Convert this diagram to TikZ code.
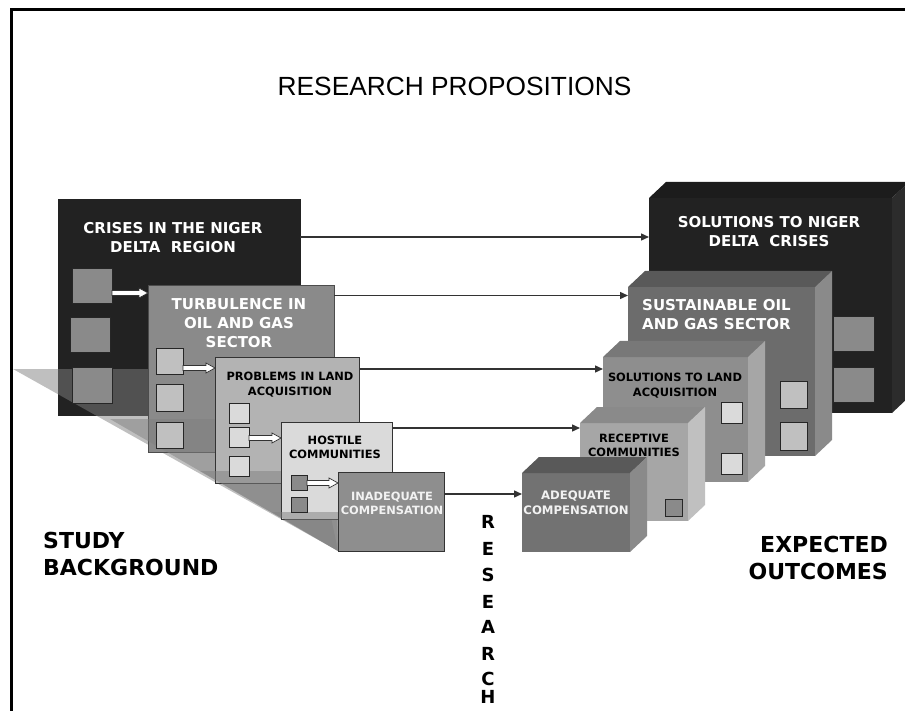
\documentclass[tikz,border=0pt]{standalone}
\usepackage{fontspec}
\setsansfont{DejaVu Sans}
\newfontfamily\titlefont{Liberation Sans}
\usetikzlibrary{arrows.meta,calc}
\definecolor{k22}{HTML}{222222}
\definecolor{k33}{HTML}{333333}
\definecolor{r1top}{HTML}{1C1C1C}
\definecolor{r1side}{HTML}{2C2C2C}
\definecolor{g59}{HTML}{595959}
\definecolor{g6c}{HTML}{6C6C6C}
\definecolor{g72}{HTML}{727272}
\definecolor{g78}{HTML}{787878}
\definecolor{g8a}{HTML}{8A8A8A}
\definecolor{g8e}{HTML}{8E8E8E}
\definecolor{ga6}{HTML}{A6A6A6}
\definecolor{gb3}{HTML}{B3B3B3}
\definecolor{gc0}{HTML}{C0C0C0}
\definecolor{gda}{HTML}{DADADA}
\definecolor{txtw}{HTML}{F2F2F2}
\newcommand{\bigf}{\fontsize{15}{19}\selectfont}
\newcommand{\smallf}{\fontsize{11.4}{14.5}\selectfont}
\tikzset{
  lbox/.style={rectangle, inner sep=0pt, outer sep=0pt, anchor=north west, draw=k33, line width=0.8pt},
  fbox/.style={rectangle, inner sep=0pt, outer sep=0pt, anchor=north west},
  sqr/.style={rectangle, inner sep=0pt, outer sep=0pt, anchor=north west, draw=black!85, line width=0.8pt},
  btxt/.style={inner sep=0pt, align=center, font=\sffamily\bfseries},
  conn/.style={draw=k33, line width=1.4pt, -{Triangle[length=8pt,width=7pt]}},
  warrow/.style={fill=white, draw=k33, line width=0.7pt, line join=miter},
  shad/.style={fill=black!50, fill opacity=0.5},
  label/.style={inner sep=0pt, font=\sffamily\bfseries\fontsize{22}{27}\selectfont},
  vlet/.style={inner sep=0pt, anchor=base, font=\sffamily\bfseries\fontsize{18}{20}\selectfont},
}
% block arrow from square #1 to box #2 at height #3
\newcommand{\blockarrow}[3]{%
  \path[warrow] let \p1=(#1.east), \p2=(#2.west), \p3=(0,#3) in
    (\x1,\y3+2.5pt) -- (\x2-9pt,\y3+2.5pt) -- (\x2-9pt,\y3+5pt) -- (\x2,\y3)
    -- (\x2-9pt,\y3-5pt) -- (\x2-9pt,\y3-2.5pt) -- (\x1,\y3-2.5pt) -- cycle;}
% 3D faces of a front node
\newcommand{\cubefaces}[3]{%
  \fill[#2] (#1.north west) -- ([shift={(17,-16)}]#1.north west) -- ([shift={(17,-16)}]#1.north east) -- (#1.north east) -- cycle;
  \fill[#3] (#1.north east) -- ([shift={(17,-16)}]#1.north east) -- ([shift={(17,-16)}]#1.south east) -- (#1.south east) -- cycle;}
\begin{document}
\begin{tikzpicture}[x=1pt,y=-1pt]
\useasboundingbox (0,0) rectangle (905,711);
\fill[white] (0,0) rectangle (905,711);
% frame
\draw[line width=3pt] (11.5,711) -- (11.5,9.5) -- (905,9.5);
% title
\node[inner sep=0pt, font=\titlefont\fontsize{26.3}{30}\selectfont] (title) at (454.5,86) {RESEARCH PROPOSITIONS};

% ---------------- left stack ----------------
\node[lbox, draw=k22, fill=k22, minimum width=242pt, minimum height=216pt] (b1) at (58,199) {};
\node[btxt, text=white, font=\sffamily\bfseries\bigf] (t1) at (173,237.5) {CRISES IN THE NIGER\\DELTA~~REGION};
\fill[shad] (13,369) -- (300,369) -- (338,551) -- cycle;
\node[sqr, fill=g8a, minimum width=40pt, minimum height=35pt] (s1a) at (72,268) {};
\node[sqr, fill=g8a, minimum width=40pt, minimum height=35pt] (s1b) at (70,317) {};
\node[sqr, fill=g8a, minimum width=40pt, minimum height=36pt] (s1c) at (72,367) {};

\node[lbox, draw=black!70, fill=g8a, minimum width=186pt, minimum height=167pt] (b2) at (148,285) {};
\blockarrow{s1a}{b2}{293}
\node[btxt, text=white, font=\sffamily\bfseries\bigf] (t2) at (239,323) {TURBULENCE IN\\OIL AND GAS\\SECTOR};
\fill[shad] (110,419) -- (334,419) -- (338,551) -- cycle;
\node[sqr, fill=gc0, minimum width=27pt, minimum height=26pt] (s2a) at (156,348) {};
\node[sqr, fill=gc0, minimum width=27pt, minimum height=27pt] (s2b) at (156,384) {};
\node[sqr, fill=gc0, minimum width=27pt, minimum height=26pt] (s2c) at (156,422) {};

\node[lbox, fill=gb3, minimum width=144pt, minimum height=126pt] (b3) at (215,357) {};
\blockarrow{s2a}{b3}{368}
\node[btxt, text=black, font=\sffamily\bfseries\smallf] (t3) at (290,384.5) {PROBLEMS IN LAND\\ACQUISITION};
\fill[shad] (200,471) -- (359,471) -- (338,551) -- cycle;
\node[sqr, fill=gda, minimum width=20pt, minimum height=20pt] (s3a) at (229,403) {};
\node[sqr, fill=gda, minimum width=20pt, minimum height=20pt] (s3b) at (229,427) {};
\node[sqr, fill=gda, minimum width=20pt, minimum height=20pt] (s3c) at (229,456) {};

\node[lbox, fill=gda, minimum width=111pt, minimum height=97pt] (b4) at (281,422) {};
\blockarrow{s3b}{b4}{438}
\node[btxt, text=black, font=\sffamily\bfseries\smallf] (t4) at (335,447.5) {HOSTILE\\COMMUNITIES};
\fill[shad] (272,512) -- (392,512) -- (338,551) -- cycle;
\node[sqr, fill=g8a, minimum width=16pt, minimum height=15pt] (s4a) at (291,475) {};
\node[sqr, fill=g8a, minimum width=16pt, minimum height=15pt] (s4b) at (291,497) {};

\node[lbox, fill=g8e, minimum width=106pt, minimum height=79pt] (b5) at (338,472) {};
\blockarrow{s4a}{b5}{483}
\node[btxt, text=txtw, font=\sffamily\bfseries\smallf] (t5) at (392,503.5) {INADEQUATE\\COMPENSATION};

% ---------------- right stack ----------------
\node[fbox, fill=k22, minimum width=243pt, minimum height=215pt] (r1) at (649,198) {};
\cubefaces{r1}{r1top}{r1side}
\node[btxt, text=white, font=\sffamily\bfseries\bigf] (u1) at (769,232) {SOLUTIONS TO NIGER\\DELTA~~CRISES};
\node[sqr, fill=g8a, minimum width=41pt, minimum height=35pt] (q1a) at (833,316) {};
\node[sqr, fill=g8a, minimum width=41pt, minimum height=35pt] (q1b) at (833,367) {};

\node[fbox, fill=g6c, minimum width=187pt, minimum height=169pt] (r2) at (628,287) {};
\cubefaces{r2}{g59}{g8a}
\node[btxt, align=left, anchor=west, text=white, font=\sffamily\bfseries\bigf] (u2) at (642,315) {SUSTAINABLE OIL\\AND GAS SECTOR};
\node[sqr, fill=gc0, minimum width=27pt, minimum height=27pt] (q2a) at (780,381) {};
\node[sqr, fill=gc0, minimum width=27pt, minimum height=28pt] (q2b) at (780,422) {};

\node[fbox, fill=g8e, minimum width=145pt, minimum height=125pt] (r3) at (603,357) {};
\cubefaces{r3}{g78}{ga6}
\node[btxt, text=black, font=\sffamily\bfseries\smallf] (u3) at (675,385.5) {SOLUTIONS TO LAND\\ACQUISITION};
\node[sqr, fill=gda, minimum width=21pt, minimum height=21pt] (q3a) at (721,402) {};
\node[sqr, fill=gda, minimum width=21pt, minimum height=21pt] (q3b) at (721,453) {};

\node[fbox, fill=ga6, minimum width=108pt, minimum height=98pt] (r4) at (580,423) {};
\cubefaces{r4}{g8a}{gc0}
\node[btxt, text=black, font=\sffamily\bfseries\smallf] (u4) at (634,445.5) {RECEPTIVE\\COMMUNITIES};
\node[sqr, fill=g8a, minimum width=17pt, minimum height=17pt] (q4a) at (665,499) {};

\node[fbox, fill=g72, minimum width=108pt, minimum height=79pt] (r5) at (522,473) {};
\cubefaces{r5}{g59}{g8a}
\node[btxt, text=txtw, font=\sffamily\bfseries\fontsize{11.7}{14.5}\selectfont] (u5) at (576,502.5) {ADEQUATE\\COMPENSATION};

% ---------------- connectors ----------------
\coordinate (c1) at ([yshift=-38pt]b1.north east);
\coordinate (c2) at ([yshift=-10.5pt]b2.north east);
\coordinate (c3) at ([yshift=-12pt]b3.north east);
\coordinate (c4) at ([yshift=-6pt]b4.north east);
\coordinate (c5) at ([yshift=-22pt]b5.north east);
\draw[conn] (c1) -- (c1 -| r1.west);
\draw[conn] (c2) -- (c2 -| r2.west);
\draw[conn] (c3) -- (c3 -| r3.west);
\draw[conn] (c4) -- (c4 -| r4.west);
\draw[conn] (c5) -- (c5 -| r5.west);

% ---------------- labels ----------------
\node[label, anchor=base west] (sb1) at (43,548) {STUDY};
\node[label, anchor=base west] (sb2) at (43,575) {BACKGROUND};
\node[label, anchor=base east] (eo1) at (888,552) {EXPECTED};
\node[label, anchor=base east] (eo2) at (888,579) {OUTCOMES};
\node[vlet] (v1) at (488,528.3) {R};
\node[vlet] (v2) at (488,555) {E};
\node[vlet] (v3) at (488,581.7) {S};
\node[vlet] (v4) at (488,608.3) {E};
\node[vlet] (v5) at (488,633.3) {A};
\node[vlet] (v6) at (488,660) {R};
\node[vlet] (v7) at (488,685) {C};
\node[vlet] (v8) at (488,703.3) {H};
\end{tikzpicture}
\end{document}
